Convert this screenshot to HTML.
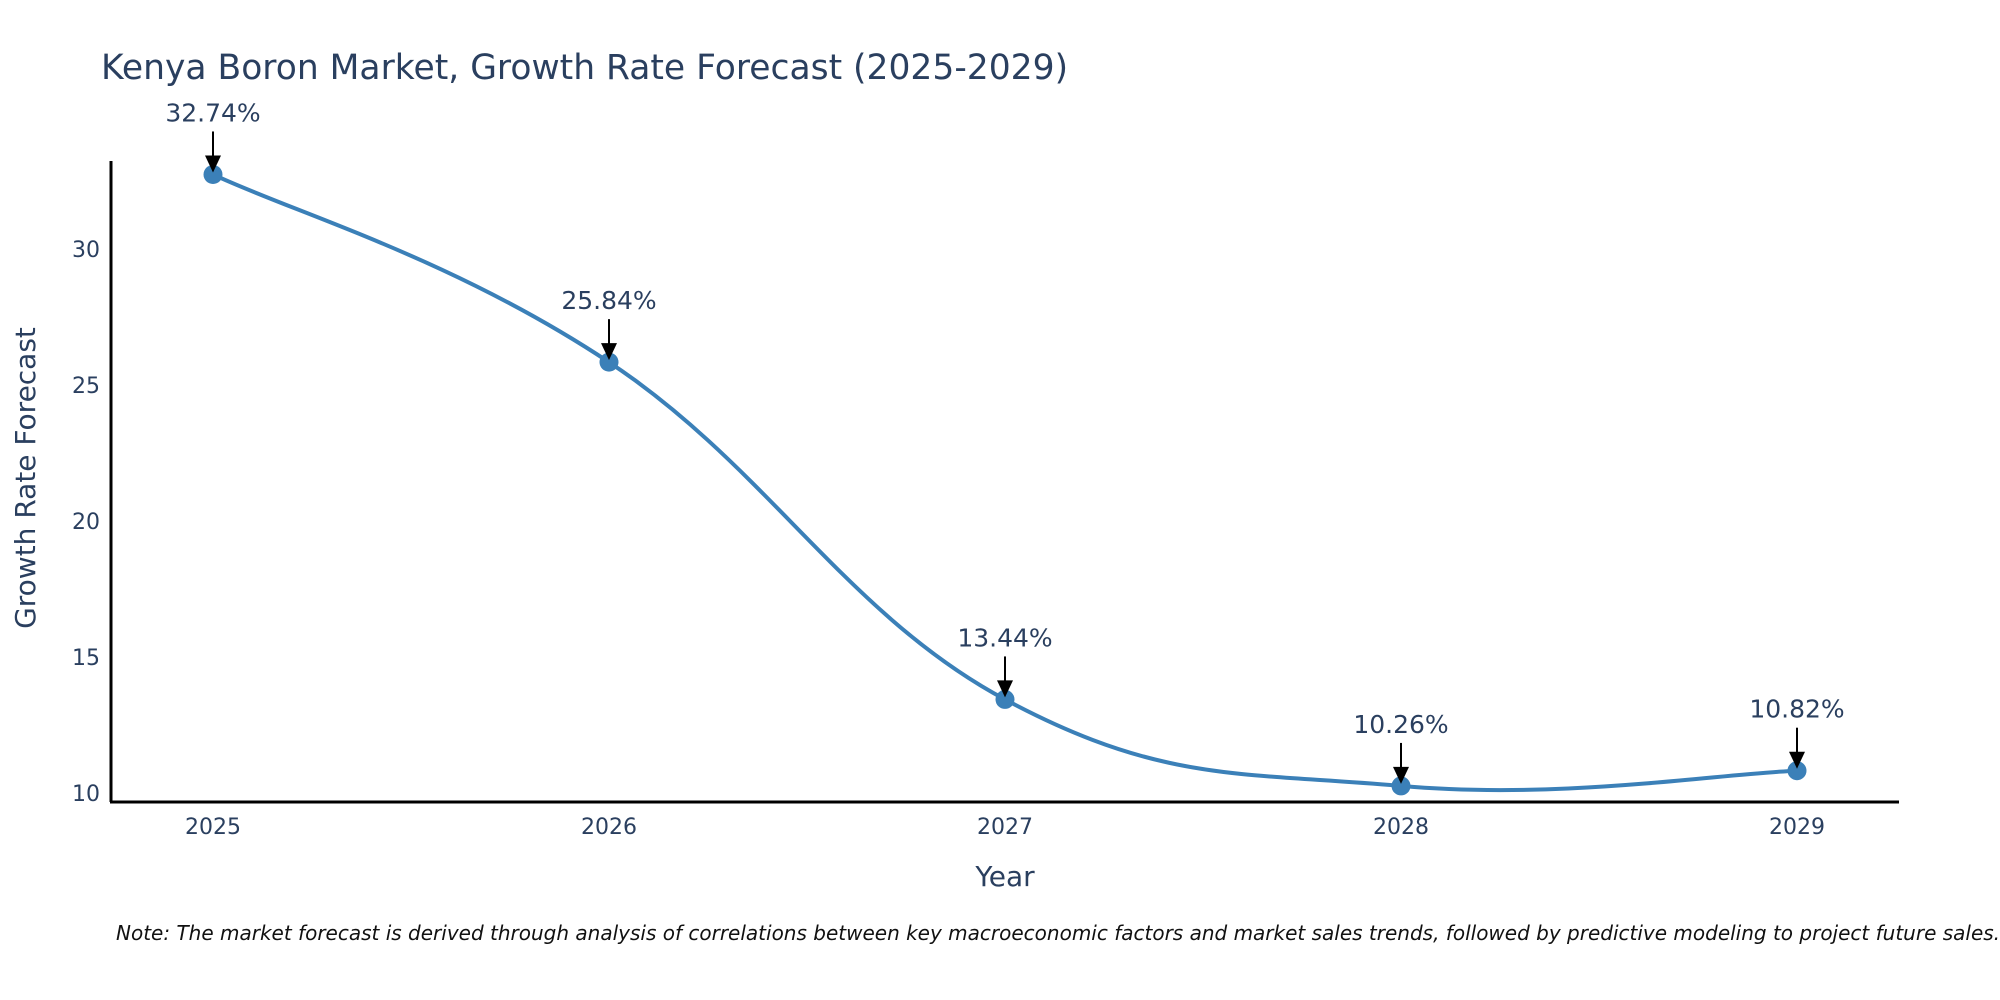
<!DOCTYPE html>
<html><head><meta charset="utf-8"><style>
body{margin:0;background:#fff}
svg{display:block;font-family:"DejaVu Sans","Liberation Sans",sans-serif}
</style></head><body>
<svg id="chart" width="2000" height="1000" viewBox="0 0 2000 1000">
<text x="101" y="79" font-size="34.5" fill="#2a3f5f">Kenya Boron Market, Growth Rate Forecast (2025-2029)</text>
<g id="yticks"></g>
<g id="xticks"></g>
<line x1="111" y1="161" x2="111" y2="802" stroke="#000" stroke-width="3"/>
<line x1="110" y1="802" x2="1899" y2="802" stroke="#000" stroke-width="3"/>
<path id="line" fill="none" stroke="#3b80b8" stroke-width="4"/>
<g id="marks"></g>
<text x="27" y="478" font-size="28" fill="#2a3f5f" text-anchor="middle" transform="rotate(-90 27 478)" dominant-baseline="middle">Growth Rate Forecast</text>
<text x="1005" y="886" font-size="28" fill="#2a3f5f" text-anchor="middle">Year</text>
<text x="116" y="940" font-size="20" font-style="italic" fill="#111">Note: The market forecast is derived through analysis of correlations between key macroeconomic factors and market sales trends, followed by predictive modeling to project future sales.</text>
</svg>
<script>
const years = ["2025","2026","2027","2028","2029"];
const values = [32.74, 25.84, 13.44, 10.26, 10.82];
const labels = ["32.74%","25.84%","13.44%","10.26%","10.82%"];
const yTicks = [10,15,20,25,30];
const NS="http://www.w3.org/2000/svg";
function xs(i){return 213+i*396;}
function ys(v){return 793-(v-10)*27.2;}
function mk(tag,attrs,parent){const e=document.createElementNS(NS,tag);for(const k in attrs)e.setAttribute(k,attrs[k]);parent.appendChild(e);return e;}
const yt=document.getElementById('yticks'),xt=document.getElementById('xticks'),mg=document.getElementById('marks');
yTicks.forEach(t=>{const e=mk('text',{x:100,y:ys(t)+8,'font-size':22,fill:'#2a3f5f','text-anchor':'end'},yt);e.textContent=t;

});
years.forEach((y,i)=>{const e=mk('text',{x:xs(i),y:834,'font-size':22,fill:'#2a3f5f','text-anchor':'middle'},xt);e.textContent=y;

});
const P=values.map((v,i)=>[xs(i),ys(v)]);
let d=`M${P[0][0]},${P[0][1]}`;
const t=1/5;
for(let i=0;i<P.length-1;i++){const p0=P[Math.max(0,i-1)],p1=P[i],p2=P[i+1],p3=P[Math.min(P.length-1,i+2)];
const c1=[p1[0]+(p2[0]-p0[0])*t,p1[1]+(p2[1]-p0[1])*t];
const c2=[p2[0]-(p3[0]-p1[0])*t,p2[1]-(p3[1]-p1[1])*t];
d+=` C${c1[0]},${c1[1]} ${c2[0]},${c2[1]} ${p2[0]},${p2[1]}`;}
document.getElementById('line').setAttribute('d',d);
P.forEach((p,i)=>{
const c=mk('circle',{cx:p[0],cy:p[1],r:9.5,fill:'#3b80b8'},mg);


const l=mk('line',{x1:p[0],y1:p[1]-43,x2:p[0],y2:p[1]-14,stroke:'#000','stroke-width':2},mg);


const h=mk('polygon',{points:`${p[0]-8},${p[1]-19} ${p[0]+8},${p[1]-19} ${p[0]},${p[1]-2}`,fill:'#000'},mg);


const tx=mk('text',{x:p[0],y:p[1]-53,'font-size':25,fill:'#2a3f5f','text-anchor':'middle'},mg);tx.textContent=labels[i];


});
</script>
</body></html>
